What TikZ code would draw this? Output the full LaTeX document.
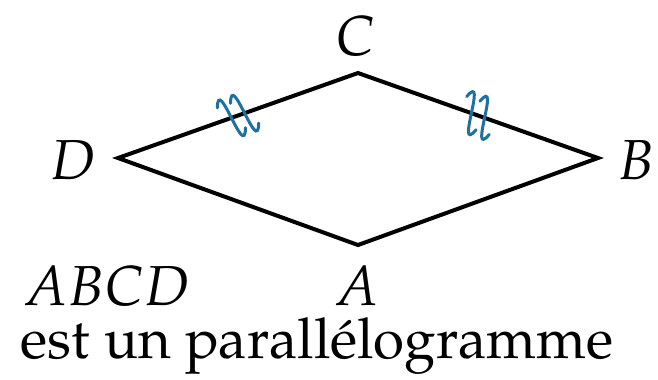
\documentclass[tikz,border=0pt]{standalone}
\usepackage[T1]{fontenc}
\usepackage{mathpazo}
\usetikzlibrary{calc}
\definecolor{markblue}{RGB}{30,112,160}

\begin{document}
\begin{tikzpicture}[
    x=0.25pt, y=-0.25pt,
    font=\fontsize{14.1}{17}\selectfont,
    side/.style={draw=black, line width=1pt, line join=miter},
    vertex/.style={inner sep=0pt},
    caption/.style={inner sep=0pt, anchor=base west},
    wavemark/.style={draw=markblue, line width=0.75pt, line cap=round},
    twowaves/.pic={
      \draw[wavemark] (-17,-14) .. controls (-5,-46) and (-9,46) .. (3,14);
      \draw[wavemark] (-3,-14) .. controls (9,-46) and (5,46) .. (17,14);
    },
  ]

  % Vertices of the parallelogram.
  \coordinate (A) at (358,245);
  \coordinate (B) at (598,158);
  \coordinate (C) at (358,73);
  \coordinate (D) at (118,158);

  \draw[side] (A) -- (B) -- (C) -- (D) -- cycle;

  % Equal sides DC and CB.
  \path ($(D)!0.5!(C)$) pic[rotate=19.5] {twowaves};
  \path ($(C)!0.5!(B)$) pic[rotate=-19.5] {twowaves};

  \node[vertex] (labC) at (356,36) {$C$};
  \node[vertex] (labD) at (73,160) {$D$};
  \node[vertex] (labB) at (636,160) {$B$};
  \node[caption] (labA) at (333,305) {$A$};

  \node[caption] (name) at (22,305) {$ABCD$};
  \node[caption] (text) at (20,358) {est un parallélogramme};

  \path[use as bounding box] (0,0) rectangle (658,379);
\end{tikzpicture}
\end{document}
